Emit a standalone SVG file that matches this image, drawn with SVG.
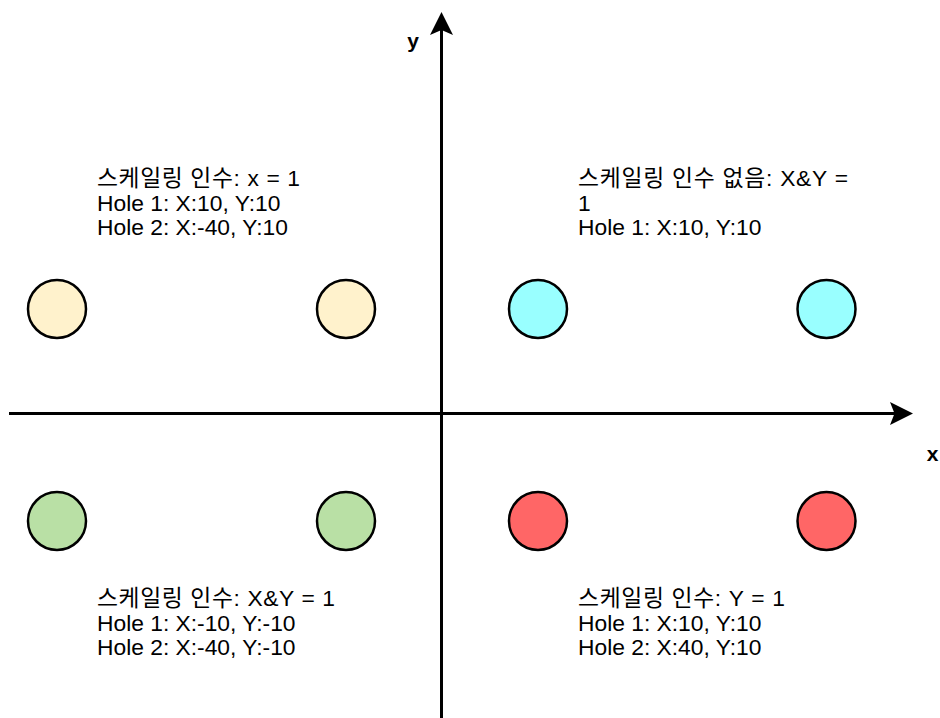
<svg xmlns="http://www.w3.org/2000/svg" width="940" height="718" viewBox="0 0 940 718">
<style>
.lbl{font-family:"Liberation Sans","Noto Sans CJK KR",Arial,sans-serif;font-size:22.8px;fill:#000}
.ax{font-family:"Liberation Sans",Arial,sans-serif;font-size:21px;font-weight:bold;fill:#000}
.hole{stroke:#000;stroke-width:2.5}
.axis{stroke:#000;stroke-width:3;fill:none}
</style>
<rect width="940" height="718" fill="#fff"/>
<g id="connectors">
<line class="axis" x1="441.5" y1="718" x2="441.5" y2="28"/>
<polygon points="441.5,12 453,35 441.5,30 430,35" fill="#000"/>
<line class="axis" x1="9" y1="413.5" x2="896" y2="413.5"/>
<polygon points="913,413.5 890,425 894.5,413.5 890,402" fill="#000"/>
</g>
<g id="label-y"><text class="ax" x="413" y="48" text-anchor="middle">y</text></g>
<g id="label-x"><text class="ax" x="932.5" y="461" text-anchor="middle">x</text></g>
<g id="hole-tl1"><circle class="hole" cx="57" cy="309" r="29" fill="#fff2cc"/></g>
<g id="hole-tl2"><circle class="hole" cx="346" cy="309" r="29" fill="#fff2cc"/></g>
<g id="hole-tr1"><circle class="hole" cx="538" cy="309" r="29" fill="#99ffff"/></g>
<g id="hole-tr2"><circle class="hole" cx="826.5" cy="309" r="29" fill="#99ffff"/></g>
<g id="hole-bl1"><circle class="hole" cx="57" cy="521" r="29" fill="#b9e0a5"/></g>
<g id="hole-bl2"><circle class="hole" cx="346" cy="521" r="29" fill="#b9e0a5"/></g>
<g id="hole-br1"><circle class="hole" cx="538" cy="521" r="29" fill="#ff6666"/></g>
<g id="hole-br2"><circle class="hole" cx="826.5" cy="521" r="29" fill="#ff6666"/></g>
<g id="text-tl"><text class="lbl" x="97"><tspan x="97" y="186" textLength="203" lengthAdjust="spacing">스케일링 인수: x = 1</tspan><tspan x="97" y="210.5">Hole 1: X:10, Y:10</tspan><tspan x="97" y="235">Hole 2: X:-40, Y:10</tspan></text></g>
<g id="text-tr"><text class="lbl" x="578"><tspan x="578" y="186" textLength="270" lengthAdjust="spacing">스케일링 인수 없음: X&amp;Y =</tspan><tspan x="578" y="210.5">1</tspan><tspan x="578" y="235">Hole 1: X:10, Y:10</tspan></text></g>
<g id="text-bl"><text class="lbl" x="97"><tspan x="97" y="606" textLength="238" lengthAdjust="spacing">스케일링 인수: X&amp;Y = 1</tspan><tspan x="97" y="630.5">Hole 1: X:-10, Y:-10</tspan><tspan x="97" y="655">Hole 2: X:-40, Y:-10</tspan></text></g>
<g id="text-br"><text class="lbl" x="578"><tspan x="578" y="606" textLength="207" lengthAdjust="spacing">스케일링 인수: Y = 1</tspan><tspan x="578" y="630.5">Hole 1: X:10, Y:10</tspan><tspan x="578" y="655">Hole 2: X:40, Y:10</tspan></text></g>
</svg>
